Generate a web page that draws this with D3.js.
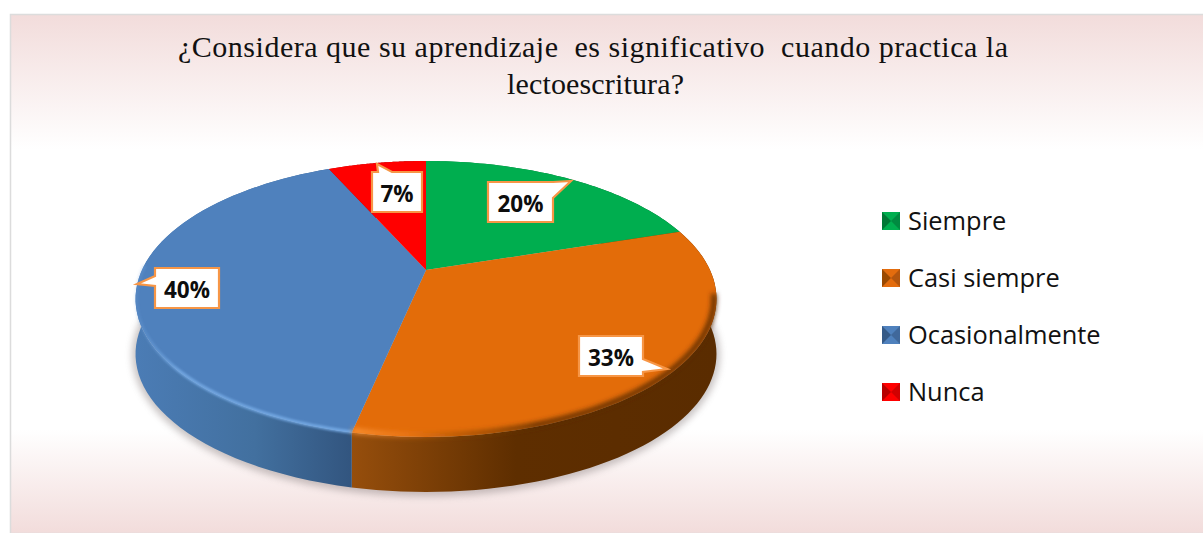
<!DOCTYPE html>
<html><head><meta charset="utf-8">
<script src="https://cdn.jsdelivr.net/npm/d3@7"></script>
<style>html,body{margin:0;padding:0;background:#fff;overflow:hidden}svg{display:block}</style>
</head><body><div id="c"></div>
<script>
const categories = ["Siempre","Casi siempre","Ocasionalmente","Nunca"];
const values = [20, 33.33, 40, 6.67];
const colors = ["#00ae4f","#e36c09","#4f81bd","#ff0000"];
const legendDark = ["#00602c","#7a3c06","#2c4a70","#9a0000"];
const titleLines = ["¿Considera que su aprendizaje  es significativo  cuando practica la","lectoescritura?"];

const W=1203,H=533;
const svg=d3.select("#c").append("svg").attr("width",W).attr("height",H);
const defs=svg.append("defs");

const bg=defs.append("linearGradient").attr("id","bg").attr("x1",0).attr("x2",0).attr("y1",0).attr("y2",1);
[[0,"#f2dcdb"],[0.26,"#ffffff"],[0.8,"#ffffff"],[1,"#f2dcdb"]].forEach(s=>bg.append("stop").attr("offset",s[0]).attr("stop-color",s[1]));
svg.append("rect").attr("x",10.5).attr("y",14.5).attr("width",W).attr("height",H-14).attr("fill","url(#bg)").attr("stroke","#dcdcdc").attr("stroke-width",1.5);

const title=svg.append("g").attr("font-family","'Liberation Serif',serif").attr("font-size",30).attr("fill","#111");
title.append("text").attr("x",178).attr("y",57).attr("textLength",830).attr("lengthAdjust","spacing").style("white-space","pre").text(titleLines[0]);
title.append("text").attr("x",507).attr("y",94).attr("textLength",177).attr("lengthAdjust","spacing").text(titleLines[1]);

// perspective projection of the pie disc
const cx=426,cy=270,sx=284,sy=131.9,p=0.21,depth=55;
const proj=(a,k=1)=>{const X=k*Math.sin(a),Y=-k*Math.cos(a),w=1-p*Y;return [cx+sx*X/w,cy+sy*Y/w];};
const line=d3.line();
const arcs=d3.pie().sort(null).value(d=>d)(values);
const samples=(a0,a1)=>d3.range(0,61).map(i=>a0+(a1-a0)*i/60);
const blur=(id,s)=>defs.append("filter").attr("id",id).attr("x","-20%").attr("y","-30%").attr("width","140%").attr("height","160%").append("feGaussianBlur").attr("stdDeviation",s);
blur("shadow",3.5);blur("soft",1.3);blur("soft2",2.4);blur("mark",0.7);

const full=d3.range(0,241).map(i=>proj(i/240*2*Math.PI));
svg.append("path").attr("d",line(full.map(q=>[q[0],q[1]+depth+1]))+"Z").attr("fill","#807474").attr("stroke","#807474").attr("stroke-width",7).attr("opacity",0.42).attr("filter","url(#shadow)");

// sides
const sideStops=[
 [[0,"#00803a"],[1,"#005a28"]],
 [[0,"#964e0c"],[0.45,"#5e2e00"],[1,"#5a2c00"]],
 [[0,"#4b7cb5"],[0.55,"#42709f"],[1,"#32557f"]],
 [[0,"#b00000"],[1,"#800000"]]
];
arcs.forEach((d,i)=>{
  const pts=samples(d.startAngle,d.endAngle).map(a=>proj(a));
  const xs=pts.map(q=>q[0]);
  const g=defs.append("linearGradient").attr("id","side"+i).attr("gradientUnits","userSpaceOnUse")
    .attr("x1",d3.min(xs)).attr("x2",d3.max(xs)).attr("y1",0).attr("y2",0);
  sideStops[i].forEach(s=>g.append("stop").attr("offset",s[0]).attr("stop-color",s[1]));
  const low=pts.map(q=>[q[0],q[1]+depth]).reverse();
  svg.append("path").attr("d",line(pts.concat(low))+"Z").attr("fill",`url(#side${i})`);
});

// top faces
arcs.forEach((d,i)=>{
  const pts=samples(d.startAngle,d.endAngle).map(a=>proj(a));
  svg.append("path").attr("d",line([[cx,cy]].concat(pts))+"Z").attr("fill",colors[i]);
});

// rim bevel on the front edge
const deg=Math.PI/180;
const blueRim=defs.append("linearGradient").attr("id","rimB").attr("gradientUnits","userSpaceOnUse").attr("x1",135).attr("x2",354).attr("y1",0).attr("y2",0);
[[0,"#6fa3e0",0.15],[0.2,"#78ade8",0.8],[1,"#78ade8",0.85]].forEach(s=>blueRim.append("stop").attr("offset",s[0]).attr("stop-color",s[1]).attr("stop-opacity",s[2]));
svg.append("path").attr("d",line(samples(arcs[1].endAngle,272*deg).map(a=>proj(a,0.998)))).attr("fill","none")
  .attr("stroke","url(#rimB)").attr("stroke-width",3.5).attr("filter","url(#soft)");
const orangeRim=defs.append("linearGradient").attr("id","rimO").attr("gradientUnits","userSpaceOnUse").attr("x1",354).attr("x2",716).attr("y1",0).attr("y2",0);
[[0,"#ff9a3c",0.9],[0.14,"#f5852a",0.5],[0.28,"#8a4606",0.5],[0.5,"#5a2c00",1],[1,"#5a2c00",1]].forEach(s=>orangeRim.append("stop").attr("offset",s[0]).attr("stop-color",s[1]).attr("stop-opacity",s[2]));
svg.append("path").attr("d",line(samples(100*deg,arcs[1].endAngle).map(a=>proj(a,0.992)))).attr("fill","none")
  .attr("stroke","url(#rimO)").attr("stroke-width",5).attr("filter","url(#soft2)");

// data labels
const boxes=[
 {x:488,y:182,w:65,h:40,tx:571,ty:181,side:"r"},
 {x:579,y:336,w:64,h:40,tx:667,ty:369,side:"r2"},
 {x:155,y:268,w:64,h:40,tx:137,ty:284,side:"l"},
 {x:372,y:172,w:50,h:40,tx:377,ty:164,side:"t"}
];
const fmt=d3.format(".0%");
const total=d3.sum(values);
const lab=svg.append("g");
boxes.forEach((b,i)=>{
  const {x,y,w,h,tx,ty}=b; let path;
  if(b.side=="r") path=[[x,y],[x+w-8,y],[x+w,y],[tx,ty],[x+w,y+16],[x+w,y+h],[x,y+h]];
  if(b.side=="r2") path=[[x,y],[x+w,y],[x+w,y+23],[tx,ty],[x+w,y+36],[x+w,y+h],[x,y+h]];
  if(b.side=="l") path=[[x,y],[x+w,y],[x+w,y+h],[x,y+h],[x,y+18],[tx,ty],[x,y+8]];
  if(b.side=="t") path=[[x,y],[x+6,y],[tx,ty],[x+20,y],[x+w,y],[x+w,y+h],[x,y+h]];
  lab.append("path").attr("d",line(path)+"Z").attr("fill","#fff").attr("stroke","#f79646").attr("stroke-width",2.2).attr("stroke-linejoin","miter");
  lab.append("text").attr("x",x+w/2).attr("y",y+h/2+10).attr("text-anchor","middle")
    .attr("font-family","'Open Sans',sans-serif").attr("font-weight",700).attr("font-size",22.5).attr("fill","#0d0d0d")
    .text(fmt(values[i]/total));
});

// legend
const leg=svg.append("g");
const yL=d3.scalePoint().domain(categories).range([221,392]);
const s=18;
categories.forEach((c,i)=>{
  const y=yL(c),x0=882,y0=y-9;
  const m=leg.append("g").attr("filter","url(#mark)");
  m.append("rect").attr("x",x0).attr("y",y0).attr("width",s).attr("height",s).attr("fill",colors[i]);
  m.append("path").attr("d",line([[x0,y0],[x0+s/2,y0+s/2],[x0,y0+s]])+"Z").attr("fill",legendDark[i]).attr("opacity",0.7);
  m.append("path").attr("d",line([[x0+s,y0],[x0+s/2,y0+s/2],[x0+s,y0+s]])+"Z").attr("fill",legendDark[i]).attr("opacity",0.45);
  leg.append("text").attr("x",908).attr("y",y+9).attr("font-family","'Open Sans',sans-serif").attr("font-size",25.4).attr("fill","#111").text(c);
});
</script></body></html>
